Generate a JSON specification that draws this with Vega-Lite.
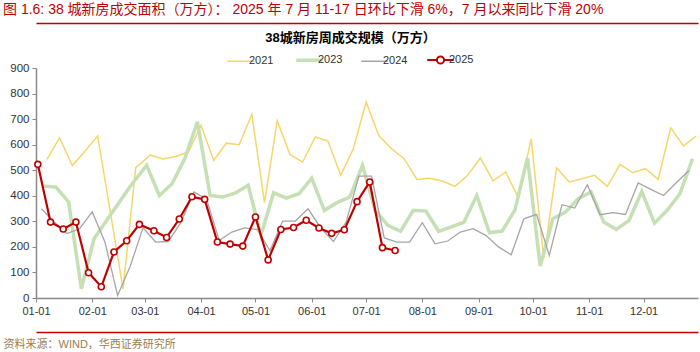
{
  "$schema": "https://vega.github.io/schema/vega-lite/v6.json",
  "width": 662,
  "height": 230,
  "padding": {"left": 3, "top": 3, "right": 2, "bottom": 0},
  "background": "white",
  "title": {
    "text": "图 1.6: 38 城新房成交面积（万方）： 2025 年 7 月 11-17 日环比下滑 6%，7 月以来同比下滑 20%",
    "anchor": "start",
    "frame": "bounds",
    "fontSize": 14,
    "fontWeight": "normal",
    "color": "#c00000",
    "offset": 6
  },
  "data": {
    "values": [
      {"s":"2021","d":"2021-01-07","v":542},{"s":"2021","d":"2021-01-14","v":627},{"s":"2021","d":"2021-01-21","v":518},{"s":"2021","d":"2021-01-28","v":574},
      {"s":"2021","d":"2021-02-04","v":634},{"s":"2021","d":"2021-02-11","v":335},{"s":"2021","d":"2021-02-18","v":36},{"s":"2021","d":"2021-02-25","v":510},
      {"s":"2021","d":"2021-03-04","v":559},{"s":"2021","d":"2021-03-11","v":544},{"s":"2021","d":"2021-03-18","v":554},{"s":"2021","d":"2021-03-25","v":571},
      {"s":"2021","d":"2021-04-01","v":675},{"s":"2021","d":"2021-04-08","v":538},{"s":"2021","d":"2021-04-15","v":606},{"s":"2021","d":"2021-04-22","v":600},{"s":"2021","d":"2021-04-29","v":718},
      {"s":"2021","d":"2021-05-06","v":373},{"s":"2021","d":"2021-05-13","v":694},{"s":"2021","d":"2021-05-20","v":562},{"s":"2021","d":"2021-05-27","v":532},
      {"s":"2021","d":"2021-06-03","v":630},{"s":"2021","d":"2021-06-10","v":614},{"s":"2021","d":"2021-06-17","v":480},{"s":"2021","d":"2021-06-24","v":584},
      {"s":"2021","d":"2021-07-01","v":767},{"s":"2021","d":"2021-07-08","v":636},{"s":"2021","d":"2021-07-15","v":584},{"s":"2021","d":"2021-07-22","v":545},{"s":"2021","d":"2021-07-29","v":464},
      {"s":"2021","d":"2021-08-05","v":469},{"s":"2021","d":"2021-08-12","v":458},{"s":"2021","d":"2021-08-19","v":437},{"s":"2021","d":"2021-08-26","v":480},
      {"s":"2021","d":"2021-09-02","v":548},{"s":"2021","d":"2021-09-09","v":458},{"s":"2021","d":"2021-09-16","v":493},{"s":"2021","d":"2021-09-23","v":391},{"s":"2021","d":"2021-09-30","v":623},
      {"s":"2021","d":"2021-10-07","v":154},{"s":"2021","d":"2021-10-14","v":509},{"s":"2021","d":"2021-10-21","v":454},{"s":"2021","d":"2021-10-28","v":467},
      {"s":"2021","d":"2021-11-04","v":480},{"s":"2021","d":"2021-11-11","v":437},{"s":"2021","d":"2021-11-18","v":523},{"s":"2021","d":"2021-11-25","v":490},
      {"s":"2021","d":"2021-12-02","v":506},{"s":"2021","d":"2021-12-09","v":464},{"s":"2021","d":"2021-12-16","v":666},{"s":"2021","d":"2021-12-23","v":595},{"s":"2021","d":"2021-12-30","v":634},

      {"s":"2023","d":"2023-01-05","v":438},{"s":"2023","d":"2023-01-12","v":434},{"s":"2023","d":"2023-01-19","v":376},{"s":"2023","d":"2023-01-26","v":36},
      {"s":"2023","d":"2023-02-02","v":232},{"s":"2023","d":"2023-02-09","v":304},{"s":"2023","d":"2023-02-16","v":376},{"s":"2023","d":"2023-02-23","v":447},
      {"s":"2023","d":"2023-03-02","v":519},{"s":"2023","d":"2023-03-09","v":401},{"s":"2023","d":"2023-03-16","v":447},{"s":"2023","d":"2023-03-23","v":545},{"s":"2023","d":"2023-03-30","v":689},
      {"s":"2023","d":"2023-04-06","v":401},{"s":"2023","d":"2023-04-13","v":395},{"s":"2023","d":"2023-04-20","v":411},{"s":"2023","d":"2023-04-27","v":441},
      {"s":"2023","d":"2023-05-04","v":245},{"s":"2023","d":"2023-05-11","v":412},{"s":"2023","d":"2023-05-18","v":391},{"s":"2023","d":"2023-05-25","v":408},
      {"s":"2023","d":"2023-06-01","v":469},{"s":"2023","d":"2023-06-08","v":343},{"s":"2023","d":"2023-06-15","v":373},{"s":"2023","d":"2023-06-22","v":395},{"s":"2023","d":"2023-06-29","v":519},
      {"s":"2023","d":"2023-07-06","v":343},{"s":"2023","d":"2023-07-13","v":284},{"s":"2023","d":"2023-07-20","v":261},{"s":"2023","d":"2023-07-27","v":343},
      {"s":"2023","d":"2023-08-03","v":340},{"s":"2023","d":"2023-08-10","v":261},{"s":"2023","d":"2023-08-17","v":278},{"s":"2023","d":"2023-08-24","v":297},{"s":"2023","d":"2023-08-31","v":401},
      {"s":"2023","d":"2023-09-07","v":255},{"s":"2023","d":"2023-09-14","v":262},{"s":"2023","d":"2023-09-21","v":343},{"s":"2023","d":"2023-09-28","v":548},
      {"s":"2023","d":"2023-10-05","v":125},{"s":"2023","d":"2023-10-12","v":310},{"s":"2023","d":"2023-10-19","v":336},{"s":"2023","d":"2023-10-26","v":389},
      {"s":"2023","d":"2023-11-02","v":415},{"s":"2023","d":"2023-11-09","v":297},{"s":"2023","d":"2023-11-16","v":268},{"s":"2023","d":"2023-11-23","v":304},{"s":"2023","d":"2023-11-30","v":417},
      {"s":"2023","d":"2023-12-07","v":293},{"s":"2023","d":"2023-12-14","v":343},{"s":"2023","d":"2023-12-21","v":408},{"s":"2023","d":"2023-12-28","v":545},

      {"s":"2024","d":"2024-01-04","v":349},{"s":"2024","d":"2024-01-11","v":297},{"s":"2024","d":"2024-01-18","v":252},{"s":"2024","d":"2024-01-25","v":271},
      {"s":"2024","d":"2024-02-01","v":337},{"s":"2024","d":"2024-02-08","v":219},{"s":"2024","d":"2024-02-15","v":10},{"s":"2024","d":"2024-02-22","v":125},{"s":"2024","d":"2024-02-29","v":275},
      {"s":"2024","d":"2024-03-07","v":219},{"s":"2024","d":"2024-03-14","v":221},{"s":"2024","d":"2024-03-21","v":297},{"s":"2024","d":"2024-03-28","v":415},
      {"s":"2024","d":"2024-04-04","v":388},{"s":"2024","d":"2024-04-11","v":225},{"s":"2024","d":"2024-04-18","v":258},{"s":"2024","d":"2024-04-25","v":274},
      {"s":"2024","d":"2024-05-02","v":268},{"s":"2024","d":"2024-05-09","v":186},{"s":"2024","d":"2024-05-16","v":301},{"s":"2024","d":"2024-05-23","v":301},{"s":"2024","d":"2024-05-30","v":349},
      {"s":"2024","d":"2024-06-06","v":274},{"s":"2024","d":"2024-06-13","v":221},{"s":"2024","d":"2024-06-20","v":297},{"s":"2024","d":"2024-06-27","v":477},
      {"s":"2024","d":"2024-07-04","v":477},{"s":"2024","d":"2024-07-11","v":235},{"s":"2024","d":"2024-07-18","v":219},{"s":"2024","d":"2024-07-25","v":219},
      {"s":"2024","d":"2024-08-01","v":295},{"s":"2024","d":"2024-08-08","v":212},{"s":"2024","d":"2024-08-15","v":223},{"s":"2024","d":"2024-08-22","v":258},{"s":"2024","d":"2024-08-29","v":271},
      {"s":"2024","d":"2024-09-05","v":245},{"s":"2024","d":"2024-09-12","v":200},{"s":"2024","d":"2024-09-19","v":169},{"s":"2024","d":"2024-09-26","v":310},
      {"s":"2024","d":"2024-10-03","v":327},{"s":"2024","d":"2024-10-10","v":167},{"s":"2024","d":"2024-10-17","v":365},{"s":"2024","d":"2024-10-24","v":352},{"s":"2024","d":"2024-10-31","v":443},
      {"s":"2024","d":"2024-11-07","v":326},{"s":"2024","d":"2024-11-14","v":334},{"s":"2024","d":"2024-11-21","v":327},{"s":"2024","d":"2024-11-28","v":450},
      {"s":"2024","d":"2024-12-05","v":425},{"s":"2024","d":"2024-12-12","v":401},{"s":"2024","d":"2024-12-19","v":451},{"s":"2024","d":"2024-12-26","v":499},

      {"s":"2025","d":"2025-01-02","v":523},{"s":"2025","d":"2025-01-09","v":297},{"s":"2025","d":"2025-01-16","v":270},{"s":"2025","d":"2025-01-23","v":297},{"s":"2025","d":"2025-01-30","v":99},
      {"s":"2025","d":"2025-02-06","v":44},{"s":"2025","d":"2025-02-13","v":180},{"s":"2025","d":"2025-02-20","v":224},{"s":"2025","d":"2025-02-27","v":288},
      {"s":"2025","d":"2025-03-06","v":263},{"s":"2025","d":"2025-03-13","v":237},{"s":"2025","d":"2025-03-20","v":309},{"s":"2025","d":"2025-03-27","v":396},
      {"s":"2025","d":"2025-04-03","v":386},{"s":"2025","d":"2025-04-10","v":219},{"s":"2025","d":"2025-04-17","v":211},{"s":"2025","d":"2025-04-24","v":203},
      {"s":"2025","d":"2025-05-01","v":317},{"s":"2025","d":"2025-05-08","v":149},{"s":"2025","d":"2025-05-15","v":268},{"s":"2025","d":"2025-05-22","v":276},{"s":"2025","d":"2025-05-29","v":304},
      {"s":"2025","d":"2025-06-05","v":274},{"s":"2025","d":"2025-06-12","v":253},{"s":"2025","d":"2025-06-19","v":267},{"s":"2025","d":"2025-06-26","v":377},
      {"s":"2025","d":"2025-07-03","v":454},{"s":"2025","d":"2025-07-10","v":197},{"s":"2025","d":"2025-07-17","v":186}
    ]
  },
  "encoding": {
    "y": {
      "field": "v",
      "type": "quantitative",
      "scale": {"domain": [0, 900], "nice": false},
      "axis": {
        "values": [0, 100, 200, 300, 400, 500, 600, 700, 800, 900],
        "title": null,
        "grid": false,
        "domainColor": "#898989",
        "domainWidth": 1.5,
        "tickColor": "#898989",
        "tickSize": 4,
        "labelFontSize": 11.5,
        "labelColor": "#333333",
        "labelPadding": 3
      }
    }
  },
  "layer": [
    {
      "transform": [{"filter": "datum.s === '2021'"}],
      "mark": {"type": "line", "strokeWidth": 1.5},
      "encoding": {
        "x": {
          "field": "d", "type": "temporal", "timeUnit": "utcmonthdate",
          "scale": {"domain": [{"year": 2012, "month": 1, "date": 1, "utc": true}, {"year": 2012, "month": 12, "date": 31, "utc": true}], "nice": false},
          "axis": {
            "orient": "bottom",
            "values": [
              {"year": 2012, "month": 1, "date": 1, "utc": true},
              {"year": 2012, "month": 2, "date": 1, "utc": true},
              {"year": 2012, "month": 3, "date": 1, "utc": true},
              {"year": 2012, "month": 4, "date": 1, "utc": true},
              {"year": 2012, "month": 5, "date": 1, "utc": true},
              {"year": 2012, "month": 6, "date": 1, "utc": true},
              {"year": 2012, "month": 7, "date": 1, "utc": true},
              {"year": 2012, "month": 8, "date": 1, "utc": true},
              {"year": 2012, "month": 9, "date": 1, "utc": true},
              {"year": 2012, "month": 10, "date": 1, "utc": true},
              {"year": 2012, "month": 11, "date": 1, "utc": true},
              {"year": 2012, "month": 12, "date": 1, "utc": true}
            ],
            "format": "%m-%d",
            "title": null,
            "grid": false,
            "labelFlush": false,
            "labelOverlap": false,
            "domainColor": "#898989",
            "domainWidth": 1.5,
            "tickColor": "#898989",
            "tickSize": 4,
            "labelFontSize": 11,
            "labelColor": "#333333",
            "labelPadding": 3
          }
        },
        "color": {
          "field": "s", "type": "nominal",
          "scale": {"domain": ["2021", "2023", "2024", "2025"], "range": ["#f5d66b", "#c5e0b4", "#a6a6a6", "#c00000"]},
          "legend": {
            "orient": "none",
            "legendX": 199,
            "legendY": -14,
            "direction": "horizontal",
            "title": null,
            "symbolType": "stroke",
            "symbolSize": 700,
            "symbolStrokeWidth": 1.5,
            "labelFontSize": 11,
            "labelColor": "#333333",
            "labelOffset": 3,
            "columnPadding": 15,
            "encode": {
              "symbols": {
                "update": {
                  "shape": {"signal": "datum.value === '2025' ? 'M-1,0H-0.27M0.27,0H1M0.27,0A0.27,0.27,0,1,1,-0.27,0A0.27,0.27,0,1,1,0.27,0Z' : 'stroke'"},
                  "strokeWidth": {"signal": "datum.value === '2023' ? 3.5 : datum.value === '2025' ? 2 : 1.5"},
                  "fill": {"signal": "datum.value === '2025' ? 'white' : 'transparent'"}
                }
              }
            }
          }
        }
      }
    },
    {
      "transform": [{"filter": "datum.s === '2023'"}],
      "mark": {"type": "line", "strokeWidth": 3.5},
      "encoding": {
        "x": {
          "field": "d", "type": "temporal", "timeUnit": "utcmonthdate",
          "scale": {"domain": [{"year": 2012, "month": 1, "date": 1, "utc": true}, {"year": 2012, "month": 12, "date": 31, "utc": true}], "nice": false},
          "axis": null
        },
        "color": {"field": "s", "type": "nominal"}
      }
    },
    {
      "transform": [{"filter": "datum.s === '2024'"}],
      "mark": {"type": "line", "strokeWidth": 1.3},
      "encoding": {
        "x": {
          "field": "d", "type": "temporal", "timeUnit": "utcmonthdate",
          "scale": {"domain": [{"year": 2012, "month": 1, "date": 1, "utc": true}, {"year": 2012, "month": 12, "date": 31, "utc": true}], "nice": false},
          "axis": {
            "orient": "top",
            "offset": 45,
            "domain": true,
            "domainColor": "#c00000",
            "domainWidth": 1.5,
            "ticks": false,
            "labels": false,
            "grid": false,
            "title": "38城新房周成交规模（万方）",
            "titleFontSize": 13,
            "titleFontWeight": "bold",
            "titleColor": "#000000",
            "titleX": 314,
            "titleY": 14,
            "titleAlign": "center",
            "titleBaseline": "middle",
            "titleAngle": 0
          }
        },
        "color": {"field": "s", "type": "nominal"}
      }
    },
    {
      "transform": [{"filter": "datum.s === '2025'"}],
      "mark": {"type": "line", "strokeWidth": 2.2},
      "encoding": {
        "x": {
          "field": "d", "type": "temporal", "timeUnit": "utcmonthdate",
          "scale": {"domain": [{"year": 2012, "month": 1, "date": 1, "utc": true}, {"year": 2012, "month": 12, "date": 31, "utc": true}], "nice": false},
          "axis": {
            "orient": "bottom",
            "offset": 34,
            "domain": true,
            "domainColor": "#c00000",
            "domainWidth": 1.5,
            "ticks": false,
            "labels": false,
            "grid": false,
            "title": "资料来源：WIND，华西证券研究所",
            "titleFontSize": 11,
            "titleFontWeight": "normal",
            "titleColor": "#9e7b50",
            "titleX": -33,
            "titleY": 12,
            "titleAlign": "left",
            "titleBaseline": "middle",
            "titleAngle": 0
          }
        },
        "color": {"field": "s", "type": "nominal"}
      }
    },
    {
      "transform": [{"filter": "datum.s === '2025'"}],
      "mark": {"type": "point", "shape": "circle", "size": 36, "filled": true, "fill": "white", "stroke": "#c00000", "strokeWidth": 1.6, "opacity": 1},
      "encoding": {
        "x": {
          "field": "d", "type": "temporal", "timeUnit": "utcmonthdate",
          "scale": {"domain": [{"year": 2012, "month": 1, "date": 1, "utc": true}, {"year": 2012, "month": 12, "date": 31, "utc": true}], "nice": false},
          "axis": null
        }
      }
    }
  ],
  "resolve": {"axis": {"x": "independent"}},
  "config": {
    "view": {"stroke": null},
    "font": "Liberation Sans, Noto Sans CJK SC, sans-serif"
  }
}
